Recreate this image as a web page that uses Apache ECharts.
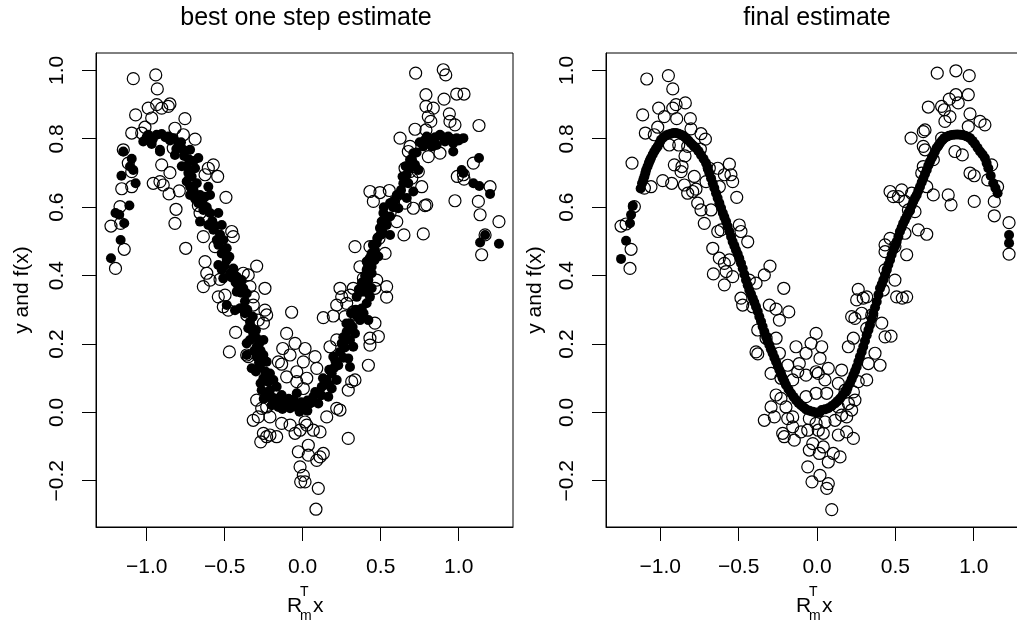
<!DOCTYPE html>
<html><head><meta charset="utf-8">
<script src="https://cdn.jsdelivr.net/npm/echarts@6/dist/echarts.min.js"></script>
<style>html,body{margin:0;padding:0;background:#fff}#c{width:1017px;height:627px;background:#fff}</style>
</head><body><div id="c"></div>
<script>
const titles = ['best one step estimate', 'final estimate'];
const yAxisTitle = 'y and f(x)';
const xTicks = [-1, -0.5, 0, 0.5, 1];
const yTicks = [-0.2, 0, 0.2, 0.4, 0.6, 0.8, 1.0];

// left panel: observed y (open circles)
const leftObs = [[-1.086,0.976],[-0.942,0.987],[-0.932,0.946],[-1.071,0.870],[-0.99,0.89],[-0.968,0.861],[-0.936,0.9],[-0.904,0.89],[-0.851,0.902],[-0.862,0.895],[-0.755,0.859],[-1.096,0.817],[-1.032,0.817],[-1.011,0.834],[-0.819,0.831],[-0.765,0.812],[-0.69,0.799],[-1.15,0.768],[-1.118,0.729],[-1.096,0.704],[-0.904,0.724],[-0.851,0.701],[-0.83,0.773],[-0.958,0.670],[-0.915,0.675],[-0.894,0.665],[-0.857,0.639],[-0.791,0.648],[-1.16,0.654],[-1.096,0.660],[-0.605,0.714],[-0.573,0.724],[-0.545,0.690],[-0.626,0.695],[-0.722,0.680],[-0.492,0.629],[-0.812,0.594],[-0.819,0.553],[-1.171,0.602],[-1.229,0.545],[-1.167,0.553],[-1.144,0.477],[-1.2,0.421],[-0.75,0.480],[-0.669,0.605],[-0.658,0.583],[-0.637,0.514],[-0.455,0.529],[-0.445,0.514],[-0.562,0.485],[-0.626,0.441],[-0.615,0.407],[-0.637,0.368],[-0.594,0.387],[-0.530,0.389],[-0.381,0.407],[-0.349,0.402],[-0.295,0.428],[-0.242,0.363],[-0.338,0.368],[-0.317,0.338],[-0.498,0.343],[-0.541,0.338],
[0.724,0.992],[0.901,1.002],[0.917,0.987],[0.79,0.929],[0.906,0.916],[0.987,0.931],[1.034,0.931],[0.79,0.895],[0.837,0.890],[0.94,0.873],[0.805,0.865],[0.821,0.851],[0.944,0.851],[0.976,0.841],[1.130,0.839],[0.72,0.828],[0.79,0.826],[0.624,0.802],[0.688,0.778],[0.677,0.763],[0.805,0.748],[0.880,0.758],[0.656,0.714],[0.688,0.704],[1.094,0.729],[0.991,0.690],[1.03,0.695],[1.034,0.682],[1.201,0.660],[1.126,0.617],[0.976,0.619],[0.795,0.607],[1.137,0.578],[1.258,0.558],[1.169,0.519],[1.147,0.461],[0.431,0.646],[0.495,0.643],[0.555,0.649],[0.453,0.617],[0.581,0.612],[0.656,0.612],[0.709,0.597],[0.784,0.605],[0.763,0.660],[0.560,0.583],[0.603,0.558],[0.649,0.519],[0.773,0.522],[0.489,0.509],[0.335,0.485],[0.431,0.485],[0.528,0.465],[0.442,0.451],[0.367,0.426],[0.389,0.392],[0.474,0.387],[0.324,0.363],[0.239,0.363],[0.463,0.363],[0.538,0.368],[0.699,0.685],[0.741,0.704],
[-0.509,0.309],[-0.477,0.299],[-0.071,0.293],[-0.430,0.234],[-0.470,0.177],[-0.317,0.314],[-0.242,0.299],[-0.231,0.285],[-0.285,0.270],[-0.252,0.261],[-0.359,0.285],[-0.103,0.231],[-0.049,0.202],[-0.128,0.187],[-0.081,0.168],[0.015,0.187],[-0.359,0.168],[-0.349,0.163],[-0.156,0.148],[-0.135,0.141],[-0.038,0.119],[0.004,0.148],[-0.103,0.104],[-0.038,0.090],[0.004,0.070],[-0.295,0.036],[-0.263,0.012],[-0.231,0.016],[-0.210,-0.013],[-0.317,-0.023],[-0.285,-0.013],[-0.135,-0.032],[-0.081,-0.037],[-0.049,-0.061],[-0.017,-0.052],[-0.252,-0.061],[-0.210,-0.066],[-0.167,-0.071],[-0.231,-0.071],[-0.269,-0.086],[-0.028,-0.115],[0.036,-0.125],[-0.017,-0.159],[0.004,-0.184],[-0.013,-0.203],[0.015,-0.203],[0.036,-0.096],
[0.25,0.338],[0.303,0.343],[0.538,0.337],[0.218,0.314],[0.282,0.319],[0.132,0.277],[0.196,0.282],[0.271,0.280],[0.324,0.294],[0.463,0.261],[0.218,0.212],[0.175,0.192],[0.431,0.217],[0.485,0.222],[0.431,0.197],[0.421,0.138],[0.079,0.163],[0.090,0.129],[0.026,0.100],[0.335,0.095],[0.292,0.065],[0.314,0.090],[0.218,0.012],[0.239,0.007],[0.154,-0.013],[0.292,-0.076],[0.015,-0.028],[0.026,-0.037],[0.068,-0.052],[0.111,-0.057],[0.132,-0.120],[0.111,-0.130],[0.090,-0.140],[0.100,-0.222],[0.085,-0.283]];

// left panel: one-step estimate f(x) (filled dots)
const leftFit = [[-0.99,0.812],[-0.936,0.812],[-0.904,0.814],[-0.862,0.807],[-1.022,0.792],[-0.968,0.785],[-0.915,0.768],[-0.83,0.802],[-0.797,0.782],[-0.765,0.768],[-0.819,0.753],[-0.722,0.768],[-0.669,0.744],[-0.744,0.719],[-0.733,0.700],[-0.69,0.714],[-0.744,0.675],[-0.722,0.660],[-0.679,0.670],[-0.722,0.636],[-0.658,0.636],[-0.605,0.660],[-0.626,0.631],[-0.594,0.636],[-0.669,0.612],[-0.637,0.592],[-0.594,0.583],[-0.541,0.583],[-0.658,0.558],[-0.605,0.548],[-0.573,0.534],[-0.519,0.548],[-0.551,0.504],[-0.509,0.504],[-0.487,0.480],[-0.519,0.465],[-0.487,0.446],[-0.541,0.431],[-0.519,0.417],[-0.466,0.407],[-0.445,0.421],[-0.423,0.397],[-0.509,0.392],[-0.391,0.387],[-0.413,0.368],[-0.381,0.363],[-0.359,0.348],
[-1.15,0.763],[-1.096,0.742],[-1.107,0.719],[-1.086,0.709],[-1.162,0.692],[-1.071,0.670],[-1.111,0.605],[-1.2,0.583],[-1.176,0.578],[-1.144,0.553],[-1.167,0.504],[-1.229,0.451],[-0.915,0.763],
[-1.000,0.805],[-0.960,0.800],[-0.880,0.805],[-0.850,0.795],[-0.780,0.790],[-0.810,0.770],[-0.760,0.750],[-0.730,0.740],[-0.775,0.720],
[-0.700,0.735],[-0.712,0.690],[-0.700,0.650],[-0.690,0.625],[-0.640,0.610],[-0.615,0.600],[-0.580,0.560],[-0.560,0.545],[-0.530,0.520],[-0.540,0.490],[-0.500,0.470],[-0.470,0.455],[-0.500,0.430],[-0.455,0.395],[-0.430,0.380],[-0.400,0.375],[-0.395,0.350],[-0.370,0.325],[-0.400,0.305],[-0.355,0.300],[-0.320,0.280],[-0.330,0.250],[-0.300,0.240],[-0.280,0.200],[-0.310,0.180],[-0.270,0.180],[-0.245,0.150],[-0.280,0.145],[-0.300,0.120],[-0.240,0.120],[-0.220,0.090],[-0.270,0.085],[-0.200,0.045],[-0.250,0.040],[-0.150,0.035],[-0.120,0.030],[-0.090,0.040],[-0.130,0.010],[-0.050,0.020],[-0.010,0.030],[-0.020,0.002],[0.030,0.005],
[0.795,0.807],[0.880,0.812],[0.933,0.807],[0.987,0.802],[1.03,0.802],[0.837,0.797],[0.965,0.787],[0.912,0.792],[0.773,0.778],[0.827,0.778],[0.859,0.782],[0.965,0.763],[1.130,0.744],[1.019,0.709],[1.03,0.700],[1.094,0.670],[1.132,0.662],[1.201,0.639],[1.169,0.519],[1.137,0.497],[1.258,0.493],
[0.709,0.758],[0.688,0.739],[0.720,0.724],[0.741,0.709],[0.688,0.714],[0.667,0.695],[0.645,0.670],[0.677,0.670],[0.709,0.646],[0.624,0.636],[0.667,0.627],[0.603,0.636],[0.560,0.612],[0.613,0.597],[0.517,0.583],[0.560,0.573],[0.506,0.558],[0.538,0.548],[0.495,0.539],[0.517,0.524],[0.560,0.519],[0.474,0.495],[0.463,0.475],[0.442,0.465],[0.485,0.456],[0.410,0.441],[0.442,0.426],[0.410,0.417],[0.442,0.407],[0.421,0.387],[0.399,0.368],[0.442,0.363],[0.378,0.353],
[0.030,0.035],[0.060,0.030],[0.080,0.060],[0.120,0.050],[0.140,0.080],[0.130,0.100],[0.170,0.080],[0.170,0.125],[0.200,0.130],[0.210,0.150],[0.260,0.160],[0.270,0.190],[0.260,0.220],[0.280,0.260],[0.320,0.250],[0.310,0.290],[0.340,0.300],[0.350,0.280],[0.390,0.290],[0.360,0.360],[0.380,0.380],[0.400,0.400],[0.420,0.430],[0.430,0.450],[0.460,0.445],[0.450,0.490],[0.480,0.510],[0.500,0.520],[0.530,0.560],[0.520,0.600],[0.580,0.600],[0.590,0.620],[0.630,0.650],[0.640,0.690],[0.660,0.720],[0.700,0.740],[0.730,0.760],[0.750,0.790],[0.780,0.795],[0.810,0.800],[0.850,0.805],[0.900,0.805],[0.950,0.800],[1.000,0.795],
[-0.423,0.353],[-0.487,0.314],[-0.434,0.299],[-0.370,0.290],[-0.338,0.265],[-0.349,0.246],[-0.317,0.231],[-0.338,0.212],[-0.295,0.217],[-0.252,0.212],[-0.359,0.202],[-0.295,0.192],[-0.359,0.168],[-0.295,0.163],[-0.252,0.168],[-0.327,0.129],[-0.274,0.133],[-0.231,0.148],[-0.210,0.114],[-0.252,0.100],[-0.188,0.095],[-0.263,0.065],[-0.210,0.065],[-0.167,0.075],[-0.231,0.046],[-0.178,0.041],[-0.135,0.051],[-0.103,0.026],[-0.060,0.036],[-0.081,0.012],[-0.028,0.012],[0.015,0.021],[-0.156,0.016],[-0.199,0.021],[-0.038,0.056],
[0.282,0.236],[0.335,0.231],[0.303,0.212],[0.25,0.202],[0.324,0.192],[0.239,0.177],[0.196,0.163],[0.292,0.158],[0.228,0.138],[0.303,0.133],[0.186,0.114],[0.154,0.095],[0.218,0.095],[0.122,0.075],[0.186,0.070],[0.100,0.056],[0.164,0.046],[0.068,0.046],[0.047,0.026],[0.004,0.016],[0.100,0.026],[0.367,0.270],[0.421,0.270],[0.378,0.304],[0.410,0.319],[0.431,0.338],[0.399,0.353],[0.346,0.338],[0.303,0.261]];

// right panel: observed y (open circles)
const rightObs = [[-1.086,0.975],[-0.948,0.985],[-0.920,0.946],[-1.112,0.870],[-1.010,0.890],[-0.974,0.865],[-0.920,0.890],[-0.899,0.900],[-0.840,0.905],[-0.895,0.859],[-0.808,0.859],[-1.016,0.834],[-1.095,0.817],[-1.038,0.812],[-0.804,0.829],[-0.740,0.815],[-0.712,0.799],[-0.942,0.782],[-0.882,0.782],[-0.825,0.778],[-0.744,0.770],[-1.180,0.729],[-0.910,0.724],[-0.861,0.719],[-0.867,0.704],[-0.842,0.750],[-0.984,0.678],[-0.927,0.670],[-0.846,0.665],[-0.783,0.690],[-0.825,0.641],[-0.793,0.646],[-0.772,0.653],[-0.708,0.675],[-0.761,0.612],[-0.740,0.592],[-0.676,0.592],[-0.719,0.553],[-0.687,0.714],[-0.633,0.714],[-0.559,0.726],[-0.591,0.695],[-0.549,0.695],[-0.538,0.675],[-0.623,0.660],[-0.512,0.629],[-1.059,0.660],[-1.101,0.656],[-1.165,0.602],[-1.250,0.545],[-1.218,0.551],[-1.186,0.477],[-1.193,0.421],[-0.633,0.529],[-0.612,0.534],[-0.496,0.548],[-0.485,0.529],[-0.442,0.499],[-0.665,0.480],[-0.623,0.451],[-0.591,0.436],[-0.559,0.446],[-0.580,0.412],[-0.538,0.397],[-0.591,0.373],[-0.661,0.405],[-0.300,0.428],[-0.336,0.402],[-0.212,0.363],[-0.432,0.387],[-0.389,0.378],[-0.485,0.334],[-0.474,0.314],[-0.410,0.309],[-0.304,0.314],[-0.261,0.302],[-0.180,0.294],[-0.240,0.270],[-0.378,0.241],[-0.325,0.217],[-0.261,0.217],[-0.006,0.231],[-0.134,0.192],[-0.038,0.202],[-0.070,0.173],[-0.389,0.177],[-0.378,0.171],[-0.240,0.173],[-0.113,0.143],[-0.187,0.138],[-0.123,0.119],[-0.070,0.109],[-0.006,0.119],[-0.293,0.114],[-0.230,0.100],[-0.155,0.095],[-0.261,0.051],[-0.230,0.041],[-0.293,0.016],[-0.198,0.016],[-0.070,0.046],[-0.006,0.056],[-0.336,-0.023],[-0.272,-0.013],[-0.187,-0.018],[-0.155,-0.013],[-0.049,-0.018],[-0.006,-0.032],[-0.219,-0.061],[-0.209,-0.071],[-0.145,-0.081],[-0.102,-0.057],[-0.059,-0.052],[-0.155,-0.042],[-0.027,-0.091],[-0.049,-0.110],[-0.059,-0.159],[-0.032,-0.203],[0.015,-0.120],
[0.767,0.992],[0.886,0.999],[0.971,0.985],[0.710,0.893],[0.795,0.895],[0.812,0.885],[0.844,0.916],[0.886,0.929],[0.965,0.929],[0.901,0.905],[0.848,0.865],[0.816,0.851],[0.976,0.873],[1.040,0.851],[1.071,0.841],[0.965,0.836],[0.689,0.826],[0.678,0.821],[0.600,0.802],[0.678,0.778],[0.689,0.768],[0.795,0.802],[0.880,0.763],[0.927,0.753],[0.742,0.739],[0.678,0.719],[0.668,0.700],[0.976,0.700],[1.003,0.692],[1.114,0.724],[1.089,0.680],[1.152,0.660],[0.700,0.660],[0.742,0.636],[0.837,0.636],[0.855,0.607],[1.003,0.617],[1.131,0.617],[1.131,0.575],[1.225,0.555],[1.225,0.463],[0.466,0.646],[0.487,0.631],[0.540,0.651],[0.519,0.631],[0.561,0.617],[0.604,0.641],[0.583,0.592],[0.625,0.587],[0.646,0.534],[0.700,0.521],[0.561,0.524],[0.466,0.509],[0.434,0.490],[0.434,0.470],[0.497,0.485],[0.572,0.461],[0.434,0.417],[0.497,0.387],[0.423,0.358],[0.508,0.338],[0.544,0.334],[0.572,0.338],[0.263,0.360],[0.253,0.329],[0.295,0.334],[0.317,0.338],[0.221,0.280],[0.242,0.275],[0.285,0.290],[0.349,0.285],[0.413,0.261],[0.434,0.221],[0.472,0.223],[0.317,0.246],[0.232,0.217],[0.200,0.192],[0.370,0.173],[0.402,0.138],[0.327,0.143],[0.317,0.095],[0.263,0.090],[0.232,0.060],[0.157,0.124],[0.030,0.192],[0.019,0.158],[0.072,0.129],[0.008,0.114],[0.051,0.095],[0.136,0.085],[0.062,0.056],[0.179,0.065],[0.200,0.026],[0.242,0.036],[0.136,0.016],[0.157,-0.008],[0.221,0.007],[0.189,-0.013],[0.115,-0.023],[0.051,-0.028],[0.008,-0.052],[0.040,-0.061],[0.136,-0.066],[0.189,-0.057],[0.232,-0.076],[0.040,-0.101],[0.104,-0.120],[0.147,-0.130],[0.072,-0.145],[0.019,-0.184],[0.072,-0.208],[0.062,-0.222],[0.094,-0.284]];

// right panel: final estimate f(x) (filled dots)
const rightFit = [[-1.250,0.449],[-1.218,0.502],[-1.193,0.553],[-1.186,0.578],[-1.175,0.604],[-1.116,0.670],[-1.101,0.690],[-1.090,0.709],[-1.073,0.729],[-1.059,0.744],[-1.038,0.763],[-1.016,0.778],[-0.995,0.797],[-0.963,0.810],[-0.931,0.815],[-0.899,0.817],[-0.867,0.812],[-0.835,0.802],[-0.804,0.787],[-0.772,0.773],[-0.740,0.753],[-0.708,0.729],[-0.687,0.700],[-0.665,0.670],[-0.644,0.641],[-0.623,0.612],[-0.601,0.583],[-0.580,0.558],[-0.559,0.529],[-0.538,0.499],[-0.517,0.475],[-0.496,0.451],[-0.474,0.421],[-0.453,0.387],[-0.432,0.358],[-0.410,0.334],[-0.389,0.309],[-0.368,0.280],[-0.347,0.251],[-0.325,0.221],[-0.304,0.197],[-0.283,0.173],[-0.261,0.148],[-0.240,0.124],[-0.219,0.100],[-0.198,0.080],[-0.166,0.056],[-0.134,0.036],[-0.102,0.021],[-0.070,0.009],[-0.027,0.002],[0.015,-0.001],
[-1.125,0.655],[-1.108,0.680],[-1.095,0.700],[-1.081,0.719],[-1.066,0.737],[-1.048,0.754],[-1.027,0.771],[-1.005,0.788],[-0.980,0.804],[-0.947,0.813],[-0.915,0.817],[-0.883,0.815],[-0.851,0.808],[-0.820,0.795],[-0.788,0.780],[-0.756,0.764],[-0.724,0.742],[-0.697,0.715],[-0.676,0.685],[-0.655,0.656],[-0.634,0.627],[-0.612,0.598],[-0.591,0.571],[-0.570,0.544],[-0.548,0.514],[-0.527,0.487],[-0.506,0.463],[-0.485,0.436],[-0.464,0.404],[-0.442,0.372],[-0.421,0.346],[-0.400,0.322],[-0.378,0.295],[-0.357,0.266],[-0.336,0.236],[-0.315,0.209],[-0.294,0.185],[-0.272,0.160],[-0.250,0.136],[-0.229,0.112],[-0.208,0.090],[-0.182,0.068],[-0.150,0.046],[-0.118,0.028],[-0.086,0.015],[-0.048,0.005],[-0.006,0.000],
[0.030,0.007],[0.072,0.012],[0.115,0.026],[0.147,0.041],[0.179,0.060],[0.210,0.085],[0.232,0.109],[0.253,0.133],[0.274,0.163],[0.295,0.192],[0.317,0.226],[0.338,0.256],[0.359,0.290],[0.381,0.324],[0.402,0.363],[0.423,0.387],[0.444,0.417],[0.466,0.446],[0.487,0.475],[0.508,0.499],[0.529,0.529],[0.550,0.553],[0.572,0.573],[0.593,0.592],[0.614,0.617],[0.636,0.636],[0.657,0.660],[0.678,0.685],[0.700,0.709],[0.721,0.734],[0.742,0.753],[0.763,0.773],[0.784,0.787],[0.812,0.802],[0.842,0.809],[0.876,0.812],[0.912,0.812],[0.944,0.809],[0.976,0.802],[1.008,0.785],[1.040,0.763],[1.071,0.744],[1.093,0.714],[1.124,0.670],[1.152,0.641],[1.225,0.519],[1.225,0.495],
[0.051,0.009],[0.094,0.019],[0.131,0.033],[0.163,0.050],[0.195,0.072],[0.221,0.097],[0.243,0.121],[0.264,0.148],[0.285,0.177],[0.306,0.209],[0.328,0.241],[0.349,0.273],[0.370,0.307],[0.392,0.344],[0.413,0.375],[0.434,0.402],[0.455,0.432],[0.476,0.461],[0.498,0.487],[0.519,0.514],[0.540,0.541],[0.561,0.563],[0.582,0.583],[0.604,0.605],[0.625,0.627],[0.646,0.648],[0.668,0.673],[0.689,0.697],[0.710,0.722],[0.732,0.744],[0.752,0.763],[0.774,0.780],[0.798,0.795],[0.827,0.806],[0.859,0.811],[0.894,0.813],[0.928,0.811],[0.960,0.806],[0.992,0.794],[1.024,0.774],[1.056,0.754],[1.082,0.729],[1.108,0.692],[1.138,0.656]];

const FONT = '"Liberation Sans", Arial, Helvetica, sans-serif';
function fmt(v) { return v.toFixed(1).replace('-', '\u2212'); }

const chart = echarts.init(document.getElementById('c'));

const panels = [
  { left: 96, xMin: -1.325, xMax: 1.348, titleX: 301, ylabX: 22, center: 305.5 },
  { left: 606, xMin: -1.346, xMax: 1.314, titleX: 812, ylabX: 535, center: 814.5 }
];
const Y_MIN = -0.335, Y_MAX = 1.051;
const TICK_LEN = 14;

const grids = panels.map(p => ({
  left: p.left, top: 53, width: 417, height: 474,
  show: true, borderColor: '#000', borderWidth: 1, outerBoundsMode: 'none'
}));

const xAxes = panels.map((p, i) => ({
  type: 'value', gridIndex: i, min: p.xMin, max: p.xMax,
  axisLine: { show: true, onZero: false, lineStyle: { color: '#000', width: 1 } },
  splitLine: { show: false },
  axisTick: { show: false },
  axisLabel: { customValues: xTicks, margin: 30, formatter: fmt, color: '#000', fontSize: 21, fontFamily: FONT }
}));

const yAxes = panels.map((p, i) => ({
  type: 'value', gridIndex: i, min: Y_MIN, max: Y_MAX,
  axisLine: { show: true, onZero: false, lineStyle: { color: '#000', width: 1 } },
  splitLine: { show: false },
  axisTick: { show: false },
  axisLabel: { customValues: yTicks, margin: 28, rotate: 90, formatter: fmt, color: '#000', fontSize: 21, fontFamily: FONT }
}));

const openStyle = { color: 'rgba(0,0,0,0)', borderColor: '#000', borderWidth: 1.2, opacity: 1 };
const fillStyle = { color: '#000', borderWidth: 0, opacity: 1 };
function sc(data, i, filled) {
  return {
    type: 'scatter', xAxisIndex: i, yAxisIndex: i, data: data,
    symbol: 'circle', symbolSize: filled ? 10 : 12,
    itemStyle: filled ? fillStyle : openStyle,
    silent: true
  };
}

const textGraphics = [];
panels.forEach(p => {
  textGraphics.push({ type: 'text', x: p.ylabX, y: 290, rotation: Math.PI / 2,
    style: { text: yAxisTitle, font: '21px ' + FONT, fill: '#000', align: 'center', verticalAlign: 'middle', textAlign: 'center', textVerticalAlign: 'middle' } });
  const x0 = p.center - 18.5;
  textGraphics.push({ type: 'text', x: x0, y: 606, style: { text: 'R', font: '21px ' + FONT, fill: '#000', align: 'left', verticalAlign: 'middle', textAlign: 'left', textVerticalAlign: 'middle' } });
  textGraphics.push({ type: 'text', x: x0 + 13, y: 592, style: { text: 'T', font: '14px ' + FONT, fill: '#000', align: 'left', verticalAlign: 'middle', textAlign: 'left', textVerticalAlign: 'middle' } });
  textGraphics.push({ type: 'text', x: x0 + 13, y: 616, style: { text: 'm', font: '14px ' + FONT, fill: '#000', align: 'left', verticalAlign: 'middle', textAlign: 'left', textVerticalAlign: 'middle' } });
  textGraphics.push({ type: 'text', x: x0 + 26, y: 606, style: { text: 'x', font: '21px ' + FONT, fill: '#000', align: 'left', verticalAlign: 'middle', textAlign: 'left', textVerticalAlign: 'middle' } });
});

chart.setOption({
  animation: false,
  title: panels.map((p, i) => ({
    text: titles[i], left: p.titleX, top: 1, textAlign: 'center',
    textStyle: { fontSize: 25, fontWeight: 'normal', color: '#000', fontFamily: FONT }
  })),
  grid: grids,
  xAxis: xAxes,
  yAxis: yAxes,
  series: [
    sc(leftObs, 0, false), sc(leftFit, 0, true),
    sc(rightObs, 1, false), sc(rightFit, 1, true)
  ],
  graphic: textGraphics
});

// tick marks: positions come from the axes' own scales via convertToPixel
function crisp(v) { return Math.round(v - 0.5) + 0.5; }
const tickGraphics = [];
panels.forEach((p, i) => {
  const yBottom = chart.convertToPixel({ yAxisIndex: i }, Y_MIN);
  const xLeft = chart.convertToPixel({ xAxisIndex: i }, p.xMin);
  xTicks.forEach(v => {
    const px = crisp(chart.convertToPixel({ xAxisIndex: i }, v));
    tickGraphics.push({ type: 'line', silent: true, z: 10,
      shape: { x1: px, y1: yBottom, x2: px, y2: yBottom + TICK_LEN },
      style: { stroke: '#000', lineWidth: 1 } });
  });
  yTicks.forEach(v => {
    const py = crisp(chart.convertToPixel({ yAxisIndex: i }, v));
    tickGraphics.push({ type: 'line', silent: true, z: 10,
      shape: { x1: xLeft - TICK_LEN, y1: py, x2: xLeft, y2: py },
      style: { stroke: '#000', lineWidth: 1 } });
  });
});

chart.setOption({ graphic: textGraphics.concat(tickGraphics) });
</script></body></html>
